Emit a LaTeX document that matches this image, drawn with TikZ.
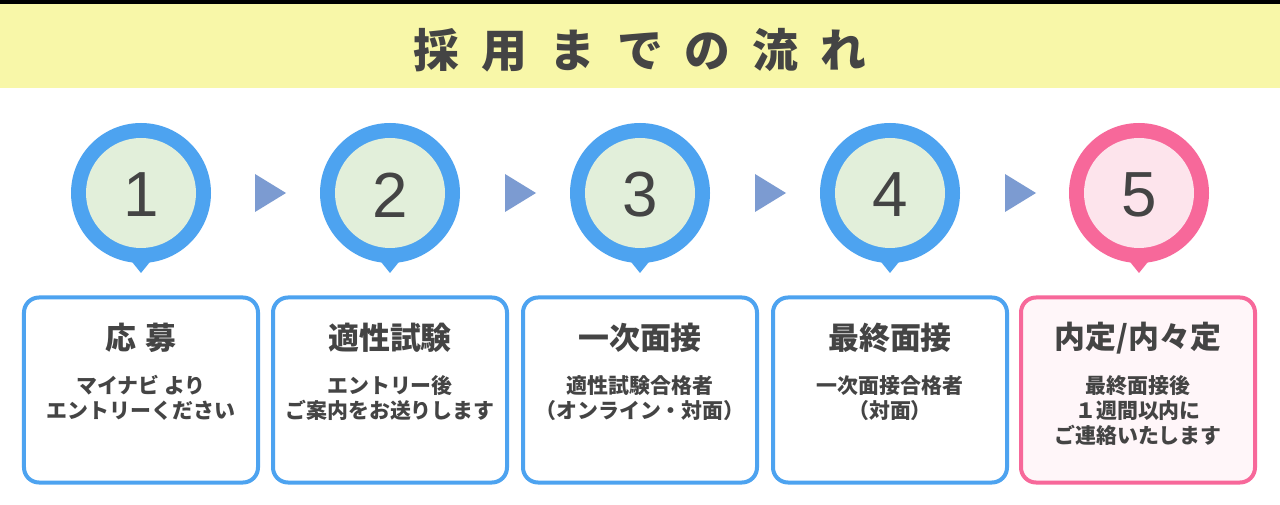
\documentclass[tikz,border=0pt]{standalone}
\usepackage{fontspec}
\setmainfont{Noto Sans CJK JP}
\newfontfamily\numfont{Liberation Sans}
\definecolor{bandyellow}{HTML}{F8F7A8}
\definecolor{pinblue}{HTML}{4DA3F0}
\definecolor{pingreen}{HTML}{E2EFDA}
\definecolor{pinpink}{HTML}{F7689A}
\definecolor{pinrose}{HTML}{FDE4EC}
\definecolor{boxrose}{HTML}{FFF6F9}
\definecolor{stepgray}{HTML}{444444}
\definecolor{arrowblue}{HTML}{7C9BD1}
\tikzset{
  stepcard/.style={draw, line width=4bp, rounded corners=15bp, minimum width=234bp, minimum height=185bp},
  cardtitle/.style={font=\fontsize{31}{34}\selectfont\bfseries, text=stepgray},
  cardtext/.style={font=\fontsize{21}{25}\selectfont\bfseries, text=stepgray, align=center},
  stepnum/.style={font=\numfont\fontsize{64}{64}\selectfont, text=stepgray},
}
\begin{document}
\begin{tikzpicture}[x=1bp,y=-1bp]
  \useasboundingbox (0,0) rectangle (1280,505);
  \fill[white] (0,0) rectangle (1280,505);
  \fill[black] (0,0) rectangle (1280,4);
  \fill[bandyellow] (0,4) rectangle (1280,88);
  \node[font=\fontsize{46}{46}\selectfont\bfseries, text=stepgray] (title) at (640,50) {採\hspace{22bp}用\hspace{22bp}ま\hspace{22bp}で\hspace{22bp}の\hspace{22bp}流\hspace{22bp}れ};
  % pins
  \foreach \x/\n/\ring/\core in {141/1/pinblue/pingreen, 390/2/pinblue/pingreen, 640/3/pinblue/pingreen, 890/4/pinblue/pingreen, 1139/5/pinpink/pinrose}{
    \fill[\ring] (\x-17,252) -- (\x+17,252) -- (\x,273) -- cycle;
    \fill[\ring] (\x,193) circle (70);
    \fill[\core] (\x,193) circle (55);
    \node[stepnum] (num\n) at (\x,195) {\n};
  }
  % arrows between pins
  \foreach \x in {255,505,755,1005}
    \fill[arrowblue] (\x,174) -- (\x+31,193) -- (\x,212) -- cycle;
  % cards
  \node[stepcard, pinblue, fill=white] (card1) at (141,390) {};
  \node[stepcard, pinblue, fill=white] (card2) at (390,390) {};
  \node[stepcard, pinblue, fill=white] (card3) at (640,390) {};
  \node[stepcard, pinblue, fill=white] (card4) at (890,390) {};
  \node[stepcard, pinpink, fill=boxrose] (card5) at (1138,390) {};
  \node[cardtitle] (head1) at (141,338) {応\hspace{10bp}募};
  \node[cardtitle] (head2) at (390,338) {適性試験};
  \node[cardtitle] (head3) at (640,338) {一次面接};
  \node[cardtitle] (head4) at (890,338) {最終面接};
  \node[cardtitle] (head5) at (1138,338) {内定/内々定};
  \node[cardtext, anchor=north] (text1) at (141,372) {マイナビ より\\エントリーください};
  \node[cardtext, anchor=north] (text2) at (390,372) {エントリー後\\ご案内をお送りします};
  \node[cardtext, anchor=north] (text3) at (640,372) {適性試験合格者\\（オンライン・対面）};
  \node[cardtext, anchor=north] (text4) at (890,372) {一次面接合格者\\（対面）};
  \node[cardtext, anchor=north] (text5) at (1138,372) {最終面接後\\１週間以内に\\ご連絡いたします};
\end{tikzpicture}
\end{document}
